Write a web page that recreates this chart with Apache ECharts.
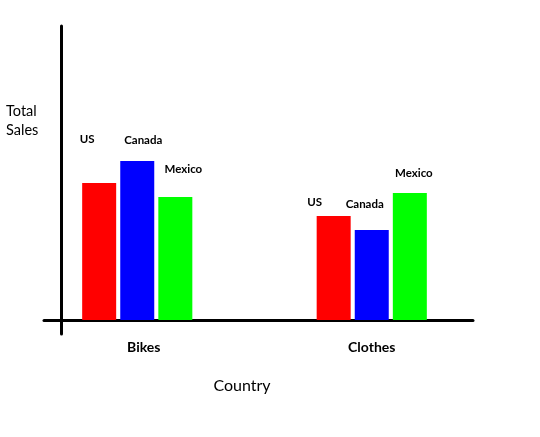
<!DOCTYPE html>
<html>
<head>
<meta charset="utf-8">
<script src="https://cdn.jsdelivr.net/npm/echarts@6/dist/echarts.min.js"></script>
<style>html,body{margin:0;padding:0;background:#fff}#c{width:540px;height:437px}</style>
</head>
<body>
<div id="c"></div>
<script>
var categories = ['Bikes', 'Clothes'];
var seriesNames = ['US', 'Canada', 'Mexico'];
var usValues = [137, 104];
var canadaValues = [159, 90];
var mexicoValues = [123, 127];
var colors = ['#ff0000', '#0000ff', '#00ff00'];

// label nudges (style only)
var labelOffsets = [
  [[-12, -38], [-19, -8]],
  [[6, -15], [-7, -20]],
  [[8, -22], [4, -14]]
];

var allValues = [usValues, canadaValues, mexicoValues];
var font = 'Lato, "Liberation Sans", sans-serif';

var series = seriesNames.map(function (name, i) {
  return {
    name: name,
    type: 'bar',
    xAxisIndex: 0,
    yAxisIndex: 0,
    barWidth: 34,
    barGap: '12%',
    itemStyle: { color: colors[i] },
    data: allValues[i].map(function (v, j) {
      return {
        value: v,
        label: {
          show: true,
          position: 'top',
          distance: 0,
          offset: labelOffsets[i][j],
          formatter: name,
          color: '#000',
          fontWeight: 'bold',
          fontSize: 11.5,
          fontFamily: font
        }
      };
    })
  };
});

var chart = echarts.init(document.getElementById('c'));
chart.setOption({
  animation: false,
  backgroundColor: '#fff',
  title: {
    text: 'Total\nSales',
    left: 1,
    top: 97,
    textStyle: { fontSize: 14.5, fontWeight: 'normal', color: '#000', lineHeight: 19, fontFamily: font }
  },
  grid: [
    { left: 20, right: 51, top: 26, bottom: 103 },
    { left: 44, right: 67, top: 26, bottom: 103 }
  ],
  xAxis: [
    {
      type: 'category',
      gridIndex: 0,
      data: categories,
      axisLine: { show: false },
      axisTick: { show: false },
      axisLabel: {
        margin: 6,
        color: '#000',
        fontWeight: 'bold',
        fontSize: 14,
        fontFamily: font,
        formatter: function (v, idx) { return idx === 0 ? '{s|' + v + '}' : v; },
        rich: { s: { padding: [0, 0, 0, 13], fontWeight: 'bold', fontSize: 14, fontFamily: font, color: '#000' } }
      },
      name: 'Country',
      nameLocation: 'middle',
      nameGap: 44,
      nameTextStyle: { fontSize: 16, color: '#000', fontFamily: font, padding: [0, 25, 0, 0] }
    },
    {
      type: 'value',
      gridIndex: 1,
      min: 0,
      max: 1,
      axisLine: { show: true, onZero: true, lineStyle: { color: '#000', width: 3 } },
      axisTick: { show: false },
      axisLabel: { show: false },
      splitLine: { show: false }
    }
  ],
  yAxis: [
    {
      type: 'value',
      gridIndex: 0,
      min: -14,
      max: 294,
      axisLine: { show: false },
      axisTick: { show: false },
      axisLabel: { show: false },
      splitLine: { show: false }
    },
    {
      type: 'value',
      gridIndex: 1,
      min: -14,
      max: 294,
      offset: -17,
      axisLine: { show: true, lineStyle: { color: '#000', width: 3 } },
      axisTick: { show: false },
      axisLabel: { show: false },
      splitLine: { show: false }
    }
  ],
  series: series
});
</script>
</body>
</html>
